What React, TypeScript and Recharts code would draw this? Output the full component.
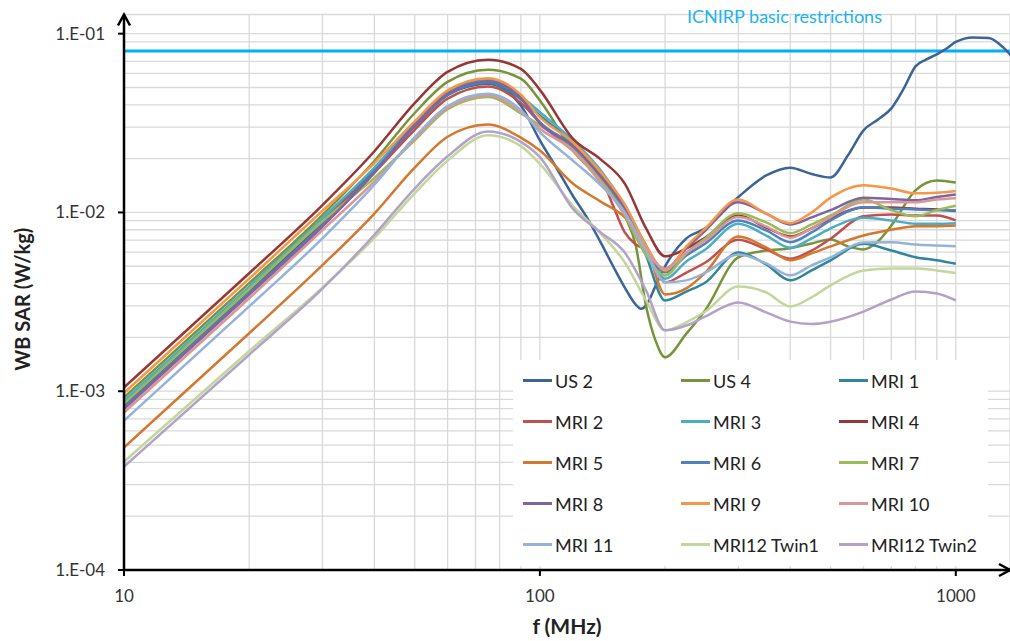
import React from 'react';
import { LineChart, Line, XAxis, YAxis, CartesianGrid, ReferenceLine, ReferenceDot, Legend } from 'recharts';

const FONT = 'Lato, "Open Sans", "DejaVu Sans", sans-serif';

// Frequency grid in MHz shared by most curves
const FREQ = [10, 20, 30, 40, 50, 60, 75, 90, 100, 120, 140, 160, 180, 200, 225, 250, 300, 350, 400, 450, 500, 600, 700, 800, 900, 1000];

// Curves that need a finer grid where they bend
const US2_FREQ = [10, 20, 30, 40, 50, 60, 75, 90, 100, 110, 120, 130, 140, 150, 160, 170, 175, 180, 190, 200, 225, 250, 300, 350, 400, 450, 500, 550, 600, 650, 700, 750, 800, 850, 900, 950, 1000, 1100, 1200, 1300, 1400];
const US4_FREQ = [10, 20, 30, 40, 50, 60, 75, 90, 100, 120, 140, 160, 170, 180, 190, 200, 225, 250, 300, 350, 400, 450, 500, 550, 600, 650, 700, 800, 900, 1000];
const MRI2_FREQ = [10, 20, 30, 40, 50, 60, 75, 90, 100, 120, 130, 140, 150, 160, 170, 180, 190, 200, 225, 250, 300, 350, 400, 450, 500, 600, 700, 800, 900, 1000];

// Whole-body SAR in W/kg
const US2 = [8.34e-4, 3.63e-3, 8.73e-3, 0.0168, 0.0309, 0.0457, 0.0525, 0.0396, 0.0253, 0.0175, 0.0124, 0.0093, 0.0068, 0.005, 0.0038, 0.00305, 0.00289, 0.00302, 0.00391, 0.00499, 0.00716, 0.00815, 0.0122, 0.0161, 0.0178, 0.0164, 0.0157, 0.0208, 0.0288, 0.0331, 0.0382, 0.0494, 0.0656, 0.0718, 0.0766, 0.0826, 0.0899, 0.0953, 0.0947, 0.0838, 0.069];
const US4 = [9.23e-4, 4.02e-3, 9.66e-3, 0.0194, 0.036, 0.0537, 0.0628, 0.056, 0.0423, 0.0222, 0.0151, 0.0096, 0.00653, 0.003, 0.0019, 0.00155, 0.0021, 0.00285, 0.0056, 0.00612, 0.0063, 0.00671, 0.00706, 0.00646, 0.00621, 0.00689, 0.00845, 0.0133, 0.0151, 0.0147];
const MRI1 = [8.73e-4, 3.8e-3, 9.14e-3, 0.0173, 0.0303, 0.0453, 0.053, 0.0429, 0.0349, 0.0243, 0.0163, 0.0107, 0.00575, 0.00322, 0.00361, 0.00406, 0.00597, 0.00512, 0.00417, 0.00474, 0.0054, 0.00668, 0.00612, 0.00562, 0.0054, 0.00516];
const MRI2 = [8.53e-4, 3.72e-3, 8.93e-3, 0.0167, 0.029, 0.0433, 0.0506, 0.041, 0.0318, 0.0222, 0.0191, 0.0159, 0.0109, 0.00773, 0.00662, 0.00612, 0.00486, 0.00407, 0.00461, 0.00525, 0.00703, 0.00621, 0.00551, 0.00612, 0.00713, 0.00951, 0.00975, 0.00962, 0.00962, 0.00902];
const MRI3 = [8.85e-4, 3.85e-3, 9.27e-3, 0.0178, 0.0316, 0.0472, 0.0552, 0.0447, 0.0364, 0.0253, 0.0172, 0.0109, 0.00653, 0.00426, 0.00532, 0.00621, 0.00865, 0.00743, 0.00635, 0.00716, 0.00815, 0.00933, 0.00902, 0.00865, 0.00865, 0.00871];
const MRI4 = [1.05e-3, 4.57e-3, 0.011, 0.022, 0.0409, 0.0611, 0.0715, 0.0635, 0.0485, 0.0259, 0.0198, 0.0145, 0.00814, 0.00568, 0.00629, 0.00724, 0.00962, 0.00824, 0.00734, 0.00814, 0.00925, 0.01066, 0.01066, 0.0105, 0.0104, 0.0102];
const MRI5 = [4.84e-4, 2.11e-3, 5.07e-3, 9.86e-3, 0.0178, 0.0265, 0.031, 0.0262, 0.0222, 0.0145, 0.0115, 0.00938, 0.00653, 0.00348, 0.00376, 0.00461, 0.00734, 0.00637, 0.0054, 0.0059, 0.00646, 0.00743, 0.008, 0.00836, 0.00838, 0.00845];
const MRI6 = [8.11e-4, 3.53e-3, 8.49e-3, 0.0168, 0.0307, 0.0458, 0.0536, 0.0433, 0.032, 0.0237, 0.0161, 0.0105, 0.00612, 0.00463, 0.00575, 0.00671, 0.00902, 0.00793, 0.00682, 0.00773, 0.00902, 0.0107, 0.0105, 0.0104, 0.0103, 0.0103];
const MRI7 = [8.53e-4, 3.72e-3, 8.93e-3, 0.0156, 0.0253, 0.0378, 0.0442, 0.0358, 0.0307, 0.0228, 0.0153, 0.00962, 0.00575, 0.00444, 0.0059, 0.00716, 0.00991, 0.00879, 0.00766, 0.00857, 0.00962, 0.0118, 0.0103, 0.00951, 0.0103, 0.0109];
const MRI8 = [7.96e-4, 3.47e-3, 8.34e-3, 0.0167, 0.031, 0.0463, 0.0542, 0.0439, 0.0315, 0.0234, 0.0159, 0.0105, 0.00612, 0.00484, 0.0063, 0.00793, 0.0114, 0.00986, 0.00857, 0.00938, 0.0103, 0.0121, 0.0119, 0.0117, 0.0122, 0.0126];
const MRI9 = [9.77e-4, 4.26e-3, 0.0102, 0.0189, 0.0323, 0.0482, 0.0564, 0.0456, 0.0341, 0.0247, 0.0168, 0.0111, 0.00653, 0.00474, 0.00646, 0.00815, 0.0118, 0.00984, 0.00871, 0.01, 0.0121, 0.0142, 0.0136, 0.0128, 0.0129, 0.0132];
const MRI10 = [7.6e-4, 3.31e-3, 7.96e-3, 0.0149, 0.0258, 0.0385, 0.0451, 0.0365, 0.0294, 0.0222, 0.0147, 0.00975, 0.00612, 0.00484, 0.00597, 0.00697, 0.00942, 0.00836, 0.00723, 0.00815, 0.00942, 0.0114, 0.0114, 0.0114, 0.0118, 0.012];
const MRI11 = [6.84e-4, 2.98e-3, 7.16e-3, 0.0143, 0.0264, 0.0394, 0.0461, 0.0373, 0.0281, 0.0195, 0.0142, 0.01, 0.00612, 0.00407, 0.00417, 0.00461, 0.00582, 0.00519, 0.00445, 0.00506, 0.0056, 0.00679, 0.00682, 0.00662, 0.00653, 0.00646];
const TWIN1 = [4.03e-4, 1.68e-3, 3.8e-3, 7.2e-3, 0.0128, 0.0195, 0.027, 0.0235, 0.0187, 0.0109, 0.00764, 0.00525, 0.00322, 0.00219, 0.00243, 0.00279, 0.00385, 0.00357, 0.00298, 0.00335, 0.00391, 0.00474, 0.00486, 0.00486, 0.00474, 0.00459];
const TWIN2 = [3.79e-4, 1.6e-3, 3.75e-3, 7.5e-3, 0.0136, 0.0206, 0.0284, 0.0248, 0.0204, 0.0105, 0.00773, 0.00597, 0.00366, 0.00219, 0.00233, 0.00262, 0.00314, 0.00276, 0.00245, 0.00238, 0.00245, 0.00279, 0.00326, 0.00361, 0.00352, 0.00322];

const ICNIRP_LIMIT = 0.08;

const SERIES = [
  { name: 'US 2', color: '#3B6497', freq: US2_FREQ, sar: US2 },
  { name: 'US 4', color: '#77933C', freq: US4_FREQ, sar: US4 },
  { name: 'MRI 1', color: '#31859C', freq: FREQ, sar: MRI1 },
  { name: 'MRI 2', color: '#C0504D', freq: MRI2_FREQ, sar: MRI2 },
  { name: 'MRI 3', color: '#4BACC6', freq: FREQ, sar: MRI3 },
  { name: 'MRI 4', color: '#953735', freq: FREQ, sar: MRI4 },
  { name: 'MRI 5', color: '#D4772F', freq: FREQ, sar: MRI5 },
  { name: 'MRI 6', color: '#4F81BD', freq: FREQ, sar: MRI6 },
  { name: 'MRI 7', color: '#9BBB59', freq: FREQ, sar: MRI7 },
  { name: 'MRI 8', color: '#8064A2', freq: FREQ, sar: MRI8 },
  { name: 'MRI 9', color: '#F79646', freq: FREQ, sar: MRI9 },
  { name: 'MRI 10', color: '#D99694', freq: FREQ, sar: MRI10 },
  { name: 'MRI 11', color: '#95B3D7', freq: FREQ, sar: MRI11 },
  { name: 'MRI12 Twin1', color: '#C3D69B', freq: FREQ, sar: TWIN1 },
  { name: 'MRI12 Twin2', color: '#B3A2C7', freq: FREQ, sar: TWIN2 },
];
const SERIES_ORDER = SERIES.map((s) => s.name);

const X_MIN = 10;
const X_MAX = 1350;
const Y_MIN = 1e-4;
const Y_MAX = 0.128;

// log grid: 1..9 in every decade
const STEPS = [1, 2, 3, 4, 5, 6, 7, 8, 9];
const X_TICKS = [10, 100].flatMap((d) => STEPS.map((s) => s * d)).concat([1000]);
const Y_TICKS = [1e-4, 1e-3, 1e-2]
  .flatMap((d) => STEPS.map((s) => Number((s * d).toPrecision(3))))
  .concat([0.1, Y_MAX]);

const isDecade = (v: number) => Math.abs(Math.log10(v) - Math.round(Math.log10(v))) < 1e-9;

const XTick = ({ x, y, payload }: any) => {
  if (!isDecade(payload.value)) return <g />;
  return (
    <g>
      <line x1={x} x2={x} y1={y} y2={y + 6} stroke="#000" strokeWidth={2} />
      <text x={x} y={y + 32} textAnchor="middle" fontSize={17} fill="#333" fontFamily={FONT}>
        {payload.value}
      </text>
    </g>
  );
};

const YTick = ({ x, y, payload }: any) => {
  if (!isDecade(payload.value) || payload.value > 0.11) return <g />;
  const exp = Math.round(Math.log10(payload.value));
  return (
    <g>
      <line x1={x - 6} x2={x} y1={y} y2={y} stroke="#000" strokeWidth={2} />
      <text x={x - 19} y={y + 6} textAnchor="end" fontSize={17} fill="#333" fontFamily={FONT}>
        {`1.E-${String(-exp).padStart(2, '0')}`}
      </text>
    </g>
  );
};

const YTitle = ({ viewBox }: any) => {
  const cx = 22;
  const cy = viewBox.y + viewBox.height / 2 + 7;
  return (
    <text x={cx} y={cy} transform={`rotate(-90 ${cx} ${cy})`} textAnchor="middle" dominantBaseline="central"
      fontSize={20} fontWeight="bold" fill="#222" fontFamily={FONT}>
      WB SAR (W/kg)
    </text>
  );
};

const XTitle = ({ viewBox }: any) => (
  <text x={viewBox.x + viewBox.width / 2} y={634} textAnchor="middle" fontSize={21} fontWeight="bold" fill="#222" fontFamily={FONT}>
    f (MHz)
  </text>
);

const LimitLabel = ({ viewBox }: any) => (
  <text x={viewBox.x + 563} y={viewBox.y - 28} fontSize={18} fill="#1CB4EE" fontFamily={FONT}>
    ICNIRP basic restrictions
  </text>
);

const UpArrow = ({ cx, cy }: any) => (
  <path d={`M${cx - 6},${cy + 11} L${cx},${cy} L${cx + 6},${cy + 11}`} fill="none" stroke="#000" strokeWidth={2.5} />
);

const RightArrow = ({ cx, cy }: any) => (
  <path d={`M${cx - 11},${cy - 6} L${cx},${cy} L${cx - 11},${cy + 6}`} fill="none" stroke="#000" strokeWidth={2.5} />
);

// 3-column legend, entries kept in series order
const LegendGrid = ({ payload }: any) => {
  const items = [...(payload || [])].sort(
    (a: any, b: any) => SERIES_ORDER.indexOf(a.value) - SERIES_ORDER.indexOf(b.value)
  );
  return (
    <div style={{ display: 'grid', gridTemplateColumns: '158px 158px 159px', gridAutoRows: '41px', paddingLeft: 10, fontFamily: FONT }}>
      {items.map((item: any) => (
        <div key={item.value} style={{ display: 'flex', alignItems: 'center' }}>
          <span style={{ display: 'inline-block', width: 29, height: 3, background: item.color, marginRight: 3 }} />
          <span style={{ fontSize: 18, color: '#222' }}>{item.value}</span>
        </div>
      ))}
    </div>
  );
};

export default function App() {
  return (
    <div style={{ position: 'absolute', left: 0, top: 0, background: '#fff' }}>
      <LineChart width={1010} height={641} margin={{ top: 14.5, right: 0, left: 0, bottom: 0 }}>
        <CartesianGrid stroke="#d9d9d9" strokeWidth={1.3} />
        <XAxis
          dataKey="f"
          type="number"
          scale="log"
          domain={[X_MIN, X_MAX]}
          allowDataOverflow
          ticks={X_TICKS}
          interval={0}
          tick={<XTick />}
          tickLine={false}
          tickSize={0}
          tickMargin={0}
          height={71}
          axisLine={{ stroke: '#000', strokeWidth: 2.5 }}
          label={<XTitle />}
        />
        <YAxis
          type="number"
          scale="log"
          domain={[Y_MIN, Y_MAX]}
          allowDataOverflow
          ticks={Y_TICKS}
          interval={0}
          tick={<YTick />}
          tickLine={false}
          tickSize={0}
          tickMargin={0}
          width={124}
          axisLine={{ stroke: '#000', strokeWidth: 2.5 }}
          label={<YTitle />}
        />
        <ReferenceLine y={ICNIRP_LIMIT} stroke="#00B0F0" strokeWidth={3} label={<LimitLabel />} />
        {SERIES.map((s) => (
          <Line
            key={s.name}
            name={s.name}
            data={s.freq.map((f, i) => ({ f, v: s.sar[i] }))}
            dataKey="v"
            type="monotone"
            stroke={s.color}
            strokeWidth={2.5}
            dot={false}
            activeDot={false}
            isAnimationActive={false}
          />
        ))}
        <ReferenceDot x={X_MIN} y={Y_MAX} r={0} ifOverflow="visible" shape={<UpArrow />} />
        <ReferenceDot x={X_MAX} y={Y_MIN} r={0} ifOverflow="visible" shape={<RightArrow />} />
        <Legend
          layout="vertical"
          align="center"
          verticalAlign="middle"
          content={<LegendGrid />}
          wrapperStyle={{ left: 513, top: 360, width: 475, height: 206, background: '#fff' }}
        />
      </LineChart>
    </div>
  );
}
